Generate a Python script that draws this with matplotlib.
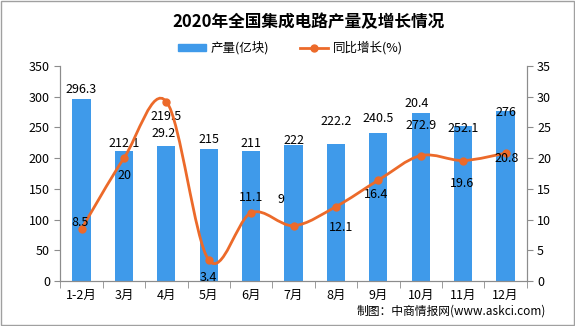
import matplotlib.pyplot as plt
import numpy as np
from matplotlib.lines import Line2D
from matplotlib.patches import Patch, PathPatch, Rectangle
from matplotlib.path import Path

plt.rcParams["font.family"] = ["Noto Sans CJK SC", "DejaVu Sans"]

months = ["1-2月", "3月", "4月", "5月", "6月", "7月", "8月", "9月", "10月", "11月", "12月"]
output = [296.3, 212.1, 219.5, 215, 211, 222, 222.2, 240.5, 272.9, 252.1, 276]
growth = [8.5, 20, 29.2, 3.4, 11.1, 9, 12.1, 16.4, 20.4, 19.6, 20.8]
output_labels = ["296.3", "212.1", "219.5", "215", "211", "222", "222.2", "240.5", "272.9", "252.1", "276"]
growth_labels = ["8.5", "20", "29.2", "3.4", "11.1", "9", "12.1", "16.4", "20.4", "19.6", "20.8"]

# label offsets in pixels (dx, dy), screen y goes up
bar_offsets = [9, 7, 30, 9, 8, 4, 23, 15, -12, -2, -1]
line_offsets = [(-2, 6), (1, -17), (-3, -32), (0, -17), (0, 15), (-13, 26),
                (5, -21), (-2, -14), (-4, 52), (-1, -23), (1, -5)]

BLUE = "#3F9AEA"
ORANGE = "#EC6A2A"
GRAY = "#8C8C8C"


def smooth_path(xs, ys):
    # Catmull-Rom style bezier through the points, like Excel's smoothed line
    pts = np.column_stack([xs, ys]).astype(float)
    verts = [pts[0]]
    codes = [Path.MOVETO]
    n = len(pts)
    for i in range(n - 1):
        p0 = pts[i - 1] if i > 0 else pts[i]
        p1 = pts[i]
        p2 = pts[i + 1]
        p3 = pts[i + 2] if i + 2 < n else pts[i + 1]
        c1 = p1 + (p2 - p0) / 6
        c2 = p2 - (p3 - p1) / 6
        verts += [c1, c2, p2]
        codes += [Path.CURVE4] * 3
    return Path(verts, codes)


fig = plt.figure(figsize=(5.75, 3.26), dpi=100)
ax = fig.add_axes([0.105, 0.138, 0.811, 0.66])
ax2 = ax.twinx()

x = np.arange(len(months))
ax.bar(x, output, width=0.43, color=BLUE, zorder=2)
ax.set_xlim(-0.5, len(months) - 0.5)
ax.set_ylim(0, 350)
ax.set_yticks(range(0, 351, 50))
ax2.set_ylim(0, 35)
ax2.set_yticks(range(0, 36, 5))

ax.set_xticks(x)
ax.set_xticklabels(months, fontsize=9)
ax.set_xticks(np.arange(-0.5, len(months), 1), minor=True)
ax.tick_params(axis="x", which="major", length=0, pad=6)
ax.tick_params(axis="x", which="minor", length=5, color=GRAY)
ax.tick_params(axis="y", length=4, color=GRAY, labelsize=9)
ax2.tick_params(axis="y", length=4, color=GRAY, labelsize=9)

for a in (ax, ax2):
    a.spines["top"].set_visible(False)
    for side in ("left", "right", "bottom"):
        a.spines[side].set_color(GRAY)

ax2.add_patch(PathPatch(smooth_path(x, growth), fill=False, edgecolor=ORANGE,
                        lw=2.0, zorder=3))
ax2.plot(x, growth, "o", color=ORANGE, ms=5, zorder=4)

for xi, v, lab, dy in zip(x, output, output_labels, bar_offsets):
    ax.annotate(lab, (xi, v), xytext=(0, dy), textcoords="offset pixels",
                ha="center", va="center", fontsize=9)
for xi, v, lab, (dx, dy) in zip(x, growth, growth_labels, line_offsets):
    ax2.annotate(lab, (xi, v), xytext=(dx, dy), textcoords="offset pixels",
                 ha="center", va="center", fontsize=9, zorder=5)

fig.text(0.536, 0.932, "2020年全国集成电路产量及增长情况", ha="center", va="center",
         fontsize=12, fontweight="bold")

handles = [Patch(color=BLUE), Line2D([], [], color=ORANGE, lw=2.0, marker="o", ms=5)]
fig.legend(handles, ["产量(亿块)", "同比增长(%)"], loc="center", bbox_to_anchor=(0.505, 0.853),
           ncol=2, frameon=False, fontsize=9, handlelength=2.2, handleheight=0.45,
           columnspacing=2.5, handletextpad=0.4)

fig.text(0.95, 0.046, "制图：中商情报网(www.askci.com)", ha="right", va="center", fontsize=8.5)

fig.patches.append(Rectangle((0.001, 0.002), 0.997, 0.995, transform=fig.transFigure,
                             fill=False, edgecolor="#A0A0A0", lw=1))

fig.savefig("out.png", dpi=100)
